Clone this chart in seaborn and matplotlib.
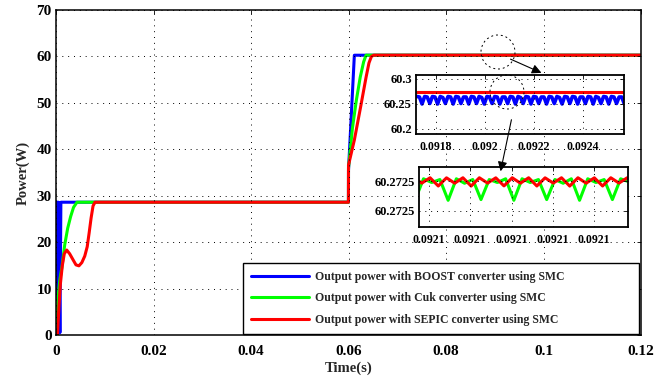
import numpy as np
import seaborn as sns
import matplotlib.pyplot as plt
from matplotlib.patches import Ellipse, FancyArrowPatch

# main traces (time in s, power in W)
boost_t = [0, 0.0002, 0.0005, 0.0008, 0.001, 0.05999, 0.06, 0.0612, 0.12]
boost_p = [0, 28.6, 28.6, 0.5, 28.6, 28.6, 35.5, 60.26, 60.26]

cuk_t = [0, 0.0004, 0.0008, 0.0012, 0.0018, 0.0024, 0.003, 0.0036, 0.0043,
         0.05999, 0.06, 0.0608, 0.0616, 0.0624, 0.0631, 0.0636, 0.12]
cuk_p = [0, 8, 12, 14.5, 19.5, 23, 25.5, 27.5, 28.6,
         28.6, 36, 44.5, 50.5, 55.5, 58.8, 60.27, 60.27]

sepic_t = [0, 0.0003, 0.0006, 0.0009, 0.0013, 0.0017, 0.0022, 0.0028, 0.0035, 0.0041,
           0.0047, 0.0053, 0.0059, 0.0064, 0.0068, 0.0072, 0.0076, 0.008,
           0.05999, 0.06, 0.0612, 0.0625, 0.0636, 0.0642, 0.0647, 0.0652, 0.12]
sepic_p = [0, 0, 6, 11, 15, 17.5, 18.3, 17.5, 16.2, 15.1,
           14.9, 15.6, 17.0, 19.0, 22, 25.2, 27.8, 28.6,
           28.6, 36.6, 42, 49.2, 55.5, 58.6, 60.0, 60.27, 60.27]

labels = ["Output power with BOOST converter using SMC",
          "Output power with Cuk converter using SMC",
          "Output power with SEPIC converter using SMC"]
colors = ["#0000ff", "#00ff00", "#ff0000"]

# zoom 1 (steady state ripple)
z1_start, z1_end = 0.0917215, 0.0925686
boost_ripple = [60.265, 60.264, 60.250, 60.265, 60.264, 60.251, 60.265, 60.264, 60.250,
                60.265, 60.263, 60.251, 60.265, 60.264, 60.250, 60.265, 60.264, 60.251,
                60.264, 60.264, 60.250, 60.265, 60.264, 60.251, 60.265, 60.263, 60.250,
                60.265, 60.264, 60.251, 60.265, 60.264, 60.250, 60.264, 60.264, 60.251,
                60.265, 60.264, 60.250, 60.265, 60.263, 60.251, 60.265, 60.264, 60.250,
                60.265, 60.264, 60.251, 60.264, 60.264, 60.250, 60.265, 60.264, 60.251,
                60.265, 60.263, 60.250, 60.265, 60.264, 60.251, 60.265, 60.264, 60.250,
                60.264, 60.264, 60.251, 60.265, 60.264, 60.250, 60.265, 60.263, 60.251,
                60.265, 60.264, 60.250, 60.265, 60.264, 60.251, 60.264, 60.264, 60.250]
z1_cuk = [60.2735, 60.2735]
z1_sepic = [60.274, 60.274]
z1_xticks = [0.0918, 0.092, 0.0922, 0.0924]
z1_xlabels = ["0.0918", "0.092", "0.0922", "0.0924"]
z1_yticks = [60.2, 60.25, 60.3]
z1_ylabels = ["60.2", "60.25", "60.3"]

# zoom 2 (Cuk vs SEPIC ripple)
cuk_ripple = [60.272495, 60.272523, 60.272518, 60.272522,
              60.272494, 60.272523, 60.272517, 60.272522,
              60.272495, 60.272522, 60.272518, 60.272523,
              60.272494, 60.272523, 60.272518, 60.272522,
              60.272495, 60.272522, 60.272517, 60.272523,
              60.272494, 60.272523, 60.272518, 60.272522,
              60.272495, 60.272523, 60.272519]
sepic_ripple = [60.2725244, 60.2725172, 60.2725244, 60.2725133,
                60.2725243, 60.2725171, 60.2725244, 60.2725132,
                60.2725244, 60.2725172, 60.2725243, 60.2725134,
                60.2725244, 60.2725171, 60.2725244, 60.2725133,
                60.2725243, 60.2725172, 60.2725244, 60.2725132,
                60.2725244, 60.2725171, 60.2725243, 60.2725133,
                60.2725244, 60.2725172, 60.2725244, 60.2725134]
z2_cuk_range = (0.0920767, 0.0921284)
z2_sepic_range = (0.0920763, 0.0921300)
z2_xticks = [0.09208, 0.09209, 0.0921, 0.09211, 0.09212]
z2_yticks = [60.27248, 60.27252]

sns.set_style("white")
plt.rcParams["font.family"] = ["Liberation Serif", "DejaVu Serif"]
plt.rcParams["font.weight"] = "bold"
plt.rcParams["axes.labelweight"] = "bold"

W, H = 672, 378
fig = plt.figure(figsize=(W / 100, H / 100), dpi=100)


def px(x, y):
    return (x / W, 1 - y / H)


grid_kw = dict(color="k", linestyle=(0, (1, 5)), linewidth=0.7)


def style_axes(a, size, lw, xpad):
    for s in a.spines.values():
        s.set_visible(True)
        s.set_color("k")
        s.set_linewidth(lw)
    a.tick_params(direction="in", top=True, right=True, length=3, width=0.6,
                  labelsize=size, colors="k", pad=3)
    a.tick_params(axis="x", pad=xpad)
    a.grid(True, **grid_kw)
    a.set_axisbelow(False)


ax = fig.add_axes([56 / W, 1 - 335 / H, 585 / W, 325 / H])
for t, p, c, lab in zip([boost_t, cuk_t, sepic_t], [boost_p, cuk_p, sepic_p], colors, labels):
    sns.lineplot(x=t, y=p, color=c, lw=2.2, label=lab, ax=ax, estimator=None, sort=False)
ax.set_xlim(0, 0.12)
ax.set_ylim(0, 70)
ax.set_xticks([0, 0.02, 0.04, 0.06, 0.08, 0.1, 0.12])
ax.set_xticklabels(["0", "0.02", "0.04", "0.06", "0.08", "0.1", "0.12"])
ax.set_yticks(range(0, 71, 10))
style_axes(ax, 11, 1.1, 7)
ax.set_xlabel("Time(s)", fontsize=10.5, labelpad=3)
ax.set_ylabel("Power(W)", fontsize=10.5, labelpad=5)
leg = ax.legend(loc="lower left", bbox_to_anchor=(0.3197, 0.003, 0.677, 0.2),
                mode="expand", borderaxespad=0, fontsize=8.5, frameon=True, fancybox=False,
                edgecolor="k", framealpha=1, handlelength=4.9, handletextpad=0.5,
                labelspacing=0.82, borderpad=0.68)
leg.get_frame().set_linewidth(1.0)
for h in leg.get_lines():
    h.set_linewidth(2.2)

# zoom 1
ax1 = fig.add_axes([416 / W, 1 - 134 / H, 208 / W, 59 / H])
sns.lineplot(x=[z1_start, z1_end], y=z1_cuk, color=colors[1], lw=2.2, ax=ax1, estimator=None, sort=False)
sns.lineplot(x=np.linspace(z1_start, z1_end, len(boost_ripple)), y=boost_ripple, color=colors[0],
             lw=2.6, ax=ax1, estimator=None, sort=False)
sns.lineplot(x=[z1_start, z1_end], y=z1_sepic, color=colors[2], lw=2.2, ax=ax1, estimator=None, sort=False)
ax1.set_xlim(0.091718, 0.0925673)
ax1.set_ylim(60.19, 60.308)
ax1.set_xticks(z1_xticks)
ax1.set_xticklabels(z1_xlabels, fontsize=8.5)
ax1.set_yticks(z1_yticks)
ax1.set_yticklabels(z1_ylabels, fontsize=9)
style_axes(ax1, 8.5, 1.3, 5)
ax1.tick_params(axis="y", labelsize=9)

# zoom 2
ax2 = fig.add_axes([419 / W, 1 - 227 / H, 209 / W, 60 / H])
sns.lineplot(x=np.linspace(*z2_cuk_range, len(cuk_ripple)), y=cuk_ripple, color=colors[1],
             lw=2.2, ax=ax2, estimator=None, sort=False)
sns.lineplot(x=np.linspace(*z2_sepic_range, len(sepic_ripple)), y=sepic_ripple, color=colors[2],
             lw=2.2, ax=ax2, estimator=None, sort=False)
ax2.set_xlim(0.0920776, 0.0921282)
ax2.set_ylim(60.272458, 60.2725389)
ax2.set_xticks(z2_xticks)
ax2.set_xticklabels(["0.0921"] * len(z2_xticks))
ax2.set_yticks(z2_yticks)
ax2.set_yticklabels(["60.2725"] * len(z2_yticks))
style_axes(ax2, 8.5, 1.3, 5)
ax2.tick_params(axis="y", labelsize=9)

# zoom markers
for cx, cy in [(498, 52), (507, 92)]:
    fig.add_artist(Ellipse(px(cx, cy), 34 / W, 34 / H, transform=fig.transFigure, fill=False,
                           edgecolor="k", lw=0.7, linestyle=(0, (2, 3)), zorder=5))
for a, b in [((508, 58), (544, 74)), ((512, 117), (500, 174))]:
    fig.add_artist(FancyArrowPatch(px(*a), px(*b), transform=fig.transFigure, arrowstyle="-|>",
                                   mutation_scale=14, lw=0.8, color="k", zorder=6))

fig.savefig("out.png", dpi=100)
